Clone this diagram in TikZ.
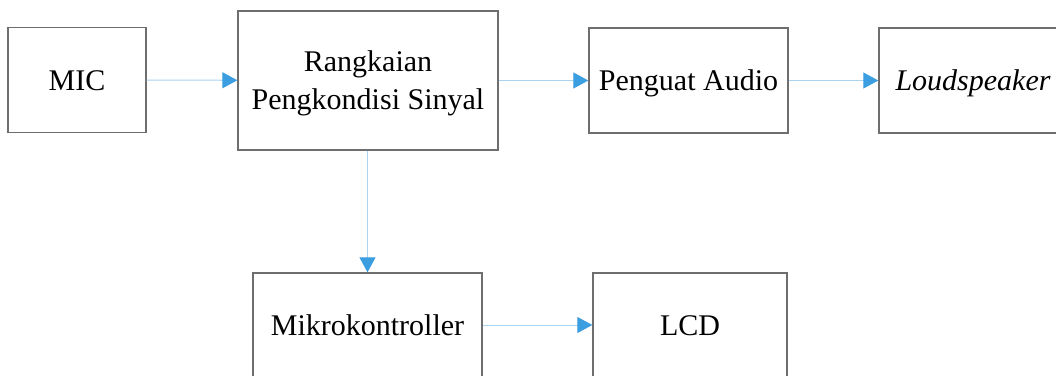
\documentclass[tikz,border=0pt]{standalone}
\usepackage{fontspec}
\setmainfont{Liberation Serif}
\usetikzlibrary{arrows.meta}
\definecolor{boxgray}{HTML}{6E6E6E}
\definecolor{linkblue}{HTML}{A9D3F0}
\definecolor{tipblue}{HTML}{3A9EE0}
\tikzset{
  blk/.style={draw=boxgray, line width=1.4pt, rectangle, inner sep=0pt,
    font=\fontsize{30}{38}\selectfont, text height=20pt, text depth=0pt},
  lbl/.style={inner sep=0pt, align=center, font=\fontsize{30}{38}\selectfont},
  link/.style={draw=linkblue, line width=1pt,
    -{Triangle[length=15pt,width=16pt,color=tipblue]}}
}
\begin{document}
\begin{tikzpicture}[x=1pt,y=-1pt]
\useasboundingbox (0,0) rectangle (1056,375);
\clip (0,0) rectangle (1056,375);
\fill[white] (0,0) rectangle (1056,375);
\node[blk, minimum width=138pt, minimum height=105pt] (mic) at (77,80) {MIC};
\node[blk, minimum width=260pt, minimum height=139pt] (rps) at (368,80.5) {};
\node[lbl] (rpst) at (368,83) {Rangkaian\\Pengkondisi Sinyal};
\node[blk, minimum width=199pt, minimum height=105pt] (pa) at (688.5,80.5) {Penguat Audio};
\node[blk, minimum width=188pt, minimum height=105pt] (ls) at (973,80.5) {\itshape Loudspeaker};
\node[blk, minimum width=229pt, minimum height=104pt] (mk) at (367.5,325) {Mikrokontroller};
\node[blk, minimum width=194pt, minimum height=104pt] (lcd) at (690,325) {LCD};
\draw[link] (mic) -- (rps);
\draw[link] (rps.east |- pa.west) -- (pa.west);
\draw[link] (pa) -- (ls);
\draw[link] (rps.south -| mk.north) -- (mk.north);
\draw[link] (mk) -- (lcd);
\end{tikzpicture}
\end{document}
